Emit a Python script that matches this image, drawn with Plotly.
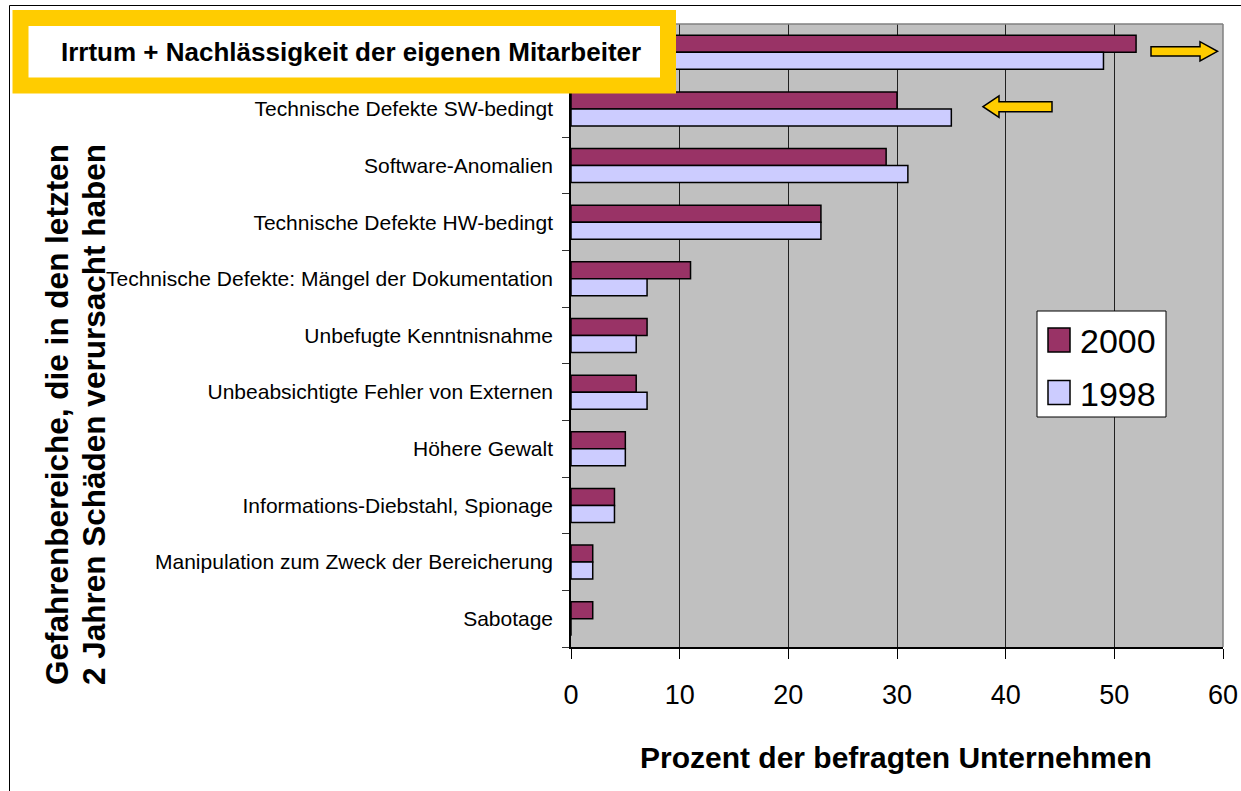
import plotly.graph_objects as go

# ---------------- data ----------------
categories = [
    "Irrtum + Nachlässigkeit der eigenen Mitarbeiter",
    "Technische Defekte SW-bedingt",
    "Software-Anomalien",
    "Technische Defekte HW-bedingt",
    "Technische Defekte: Mängel der Dokumentation",
    "Unbefugte Kenntnisnahme",
    "Unbeabsichtigte Fehler von Externen",
    "Höhere Gewalt",
    "Informations-Diebstahl, Spionage",
    "Manipulation zum Zweck der Bereicherung",
    "Sabotage",
]
series_names = ["2000", "1998"]
values_2000 = [52, 30, 29, 23, 11, 7, 6, 5, 4, 2, 2]
values_1998 = [49, 35, 31, 23, 7, 6, 7, 5, 4, 2, 0]
series_colors = ["#993366", "#CCCCFF"]
x_ticks = [0, 10, 20, 30, 40, 50, 60]
highlight_text = "Irrtum + Nachlässigkeit der eigenen Mitarbeiter"
x_title = "Prozent der befragten Unternehmen"
y_title_lines = ["Gefahrenbereiche, die in den letzten",
                 "2 Jahren Schäden verursacht haben"]

# ---------------- layout geometry (page pixels; body margin removed) ----------------
W, H = 1241, 791
L, R, T, B = 571, 1223, 24, 647          # plot area in page pixels
FONT = "Liberation Sans, Arial, sans-serif"


def px(x):
    return (x - L) / (R - L)


def py(y):
    return (B - y) / (B - T)


def path(points):
    return "M " + " L ".join(f"{px(a):.5f},{py(b):.5f}" for a, b in points) + " Z"


fig = go.Figure()
for name, vals, col in zip(series_names, [values_2000, values_1998], series_colors):
    fig.add_trace(go.Bar(
        y=categories, x=vals, name=name, orientation="h",
        marker=dict(color=col, line=dict(color="black", width=1.5)),
        showlegend=False,
    ))

shapes = []
annotations = []

# outer frame
shapes.append(dict(type="rect", xref="paper", yref="paper",
                   x0=px(9.5), x1=px(1270), y0=py(5.5), y1=py(830),
                   line=dict(color="black", width=1), fillcolor="rgba(0,0,0,0)",
                   layer="below"))

# plot border (top/right gray)
shapes.append(dict(type="line", xref="paper", yref="paper", x0=0, x1=1, y0=1, y1=1,
                   line=dict(color="#808080", width=1.5), layer="above"))
shapes.append(dict(type="line", xref="paper", yref="paper", x0=1, x1=1, y0=0, y1=1,
                   line=dict(color="#808080", width=1.5), layer="above"))

# arrows
shapes.append(dict(type="path", xref="paper", yref="paper", layer="above",
                   path=path([(1151, 46.7), (1200, 46.7), (1200, 41.7), (1217.5, 51.3),
                              (1200, 61), (1200, 56), (1151, 56)]),
                   fillcolor="#FFCC00", line=dict(color="black", width=1.5)))
shapes.append(dict(type="path", xref="paper", yref="paper", layer="above",
                   path=path([(983, 106.7), (999, 96), (999, 101.7), (1052, 101.7),
                              (1052, 111.7), (999, 111.7), (999, 117.3)]),
                   fillcolor="#FFCC00", line=dict(color="black", width=1.5)))

# highlight box
shapes.append(dict(type="rect", xref="paper", yref="paper", layer="above",
                   x0=px(20.5), x1=px(668), y0=py(18), y1=py(85.5),
                   fillcolor="white", line=dict(color="#FFCC00", width=16)))
annotations.append(dict(xref="paper", yref="paper", x=px(351), y=py(52),
                        text=f"<b>{highlight_text}</b>", showarrow=False,
                        xanchor="center", yanchor="middle",
                        font=dict(family=FONT, size=26, color="black")))

# manual legend
shapes.append(dict(type="rect", xref="paper", yref="paper", layer="above",
                   x0=px(1037), x1=px(1166), y0=py(311), y1=py(417),
                   fillcolor="white", line=dict(color="black", width=1)))
for i, (name, col) in enumerate(zip(series_names, series_colors)):
    cy = 340 + i * 52.5
    shapes.append(dict(type="rect", xref="paper", yref="paper", layer="above",
                       x0=px(1048), x1=px(1070), y0=py(cy - 12), y1=py(cy + 12),
                       fillcolor=col, line=dict(color="black", width=1.5)))
    annotations.append(dict(xref="paper", yref="paper", x=px(1078), y=py(cy + 1),
                            text=name, showarrow=False, xanchor="left", yanchor="middle",
                            font=dict(family=FONT, size=34, color="black")))

# axis titles
annotations.append(dict(xref="paper", yref="paper", x=px(896), y=py(757),
                        text=f"<b>{x_title}</b>", showarrow=False,
                        xanchor="center", yanchor="middle",
                        font=dict(family=FONT, size=30, color="black")))
for i, line in enumerate(y_title_lines):
    annotations.append(dict(xref="paper", yref="paper", x=px(57 + 37 * i), y=py(415),
                            text=f"<b>{line}</b>", showarrow=False, textangle=-90,
                            xanchor="center", yanchor="middle",
                            font=dict(family=FONT, size=31.5, color="black")))

fig.update_layout(
    width=W, height=H,
    margin=dict(l=L, r=W - R, t=T, b=H - B, autoexpand=False),
    paper_bgcolor="white", plot_bgcolor="#C0C0C0",
    barmode="group", bargap=0.4, bargroupgap=0,
    font=dict(family=FONT, color="black"),
    shapes=shapes, annotations=annotations,
    showlegend=False,
)
fig.update_xaxes(
    range=[0, 60], tickvals=x_ticks, ticktext=[str(v) for v in x_ticks],
    showgrid=True, gridcolor="#202020", gridwidth=1,
    showline=True, linecolor="black", linewidth=1.5,
    ticks="outside", ticklen=10, tickcolor="black", tickwidth=1,
    tickfont=dict(family=FONT, size=27, color="black"),
    ticklabelstandoff=13, zeroline=False,
)
fig.update_yaxes(
    autorange="reversed", type="category",
    tickvals=categories, ticktext=[""] + categories[1:],
    showline=True, linecolor="black", linewidth=1.5,
    ticks="outside", ticklen=7, tickcolor="#333333", tickson="boundaries",
    tickfont=dict(family=FONT, size=21, color="black"),
    ticklabelstandoff=12, showgrid=False,
)

fig.write_html(
    "out.html",
    config={"displayModeBar": False},
    post_script="document.body.style.margin='0px';document.body.style.overflow='hidden';",
)
